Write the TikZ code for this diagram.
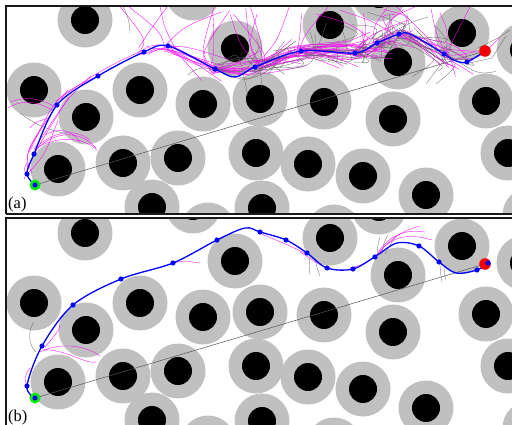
\documentclass[tikz,border=0pt]{standalone}
\usepackage{fontspec}
\setmainfont{Liberation Serif}
\definecolor{obsgray}{RGB}{192,192,192}
\definecolor{branchgray}{RGB}{100,100,100}
\definecolor{linegray}{RGB}{85,85,85}
\definecolor{pmag}{RGB}{255,0,255}
\definecolor{pblue}{RGB}{0,0,255}
\definecolor{pgreen}{RGB}{0,235,0}
\definecolor{pred}{RGB}{245,0,0}
\newcommand\drawobstacles{%
  \foreach \cx/\cy in {85/20,193/-7,235/48,34/90,86/117,140/90,203/104,260/99,58/169,123/163,178/158,256/153,152/207,208/230,262/208,330/25,379/-6,462/33,398/62,324/102,393/119,486/101,524/50,308/164,363/176,426/195,508/153,334/232,530/215}{\fill[obsgray] (\cx,\cy) circle[radius=27.5];}
  \foreach \cx/\cy in {85/20,193/-7,235/48,34/90,86/117,140/90,203/104,260/99,58/169,123/163,178/158,256/153,152/207,208/230,262/208,330/25,379/-6,462/33,398/62,324/102,393/119,486/101,524/50,308/164,363/176,426/195,508/153,334/232,530/215}{\fill[black] (\cx,\cy) circle[radius=14];}
}
\def\WX{{35,27,34,57,98,144,168,215,255,301,355,377,399,444,467,485}}
\def\WY{{185,174,154,105,76,52,46,69,67,51,53,43,34,54,62,51}}
\def\BIDX{{5,6,6,7,7,7,8,8,8,9,9,9,10,10,10,11,11,12,3,4,1,2,12,13,8,9}}
\begin{document}
\begin{tikzpicture}[x=1pt,y=-1pt,
  pathline/.style={draw=pblue,line width=1.3pt},
  wpdot/.style={fill=pblue},
  branchm/.style={draw=pmag,line width=0.35pt},
  branchg/.style={draw=branchgray,line width=0.3pt},
  direct/.style={draw=linegray,line width=0.5pt},
  panelframe/.style={draw=black!90,line width=2pt},
  startmark/.style={fill=pgreen},
  goalmark/.style={fill=pred},
  panellabel/.style={anchor=base west,inner sep=0pt,font=\fontsize{16.5}{18}\selectfont}]
\useasboundingbox (0,0) rectangle (512,425);
\clip (0,0) rectangle (512,425);
\fill[white] (0,0) rectangle (512,425);
% ---------------- panel (a)
\begin{scope}
  \clip (6,6) rectangle (520,214);
  \drawobstacles
  \coordinate (sa) at (35,185);
  \coordinate (ga) at (485,51);
  \draw[direct] (sa) -- (ga);
  \pgfmathsetseed{12}
  \foreach \n in {1,...,75}{
    \pgfmathsetmacro\i{int(\BIDX[random(0,25)])}
    \pgfmathsetmacro\j{int(\i+1)}
    \pgfmathsetmacro\k{int(\i+2)}
    \pgfmathsetmacro\ax{\WX[\i]+5*rand}
    \pgfmathsetmacro\ay{\WY[\i]+5*rand}
    \pgfmathsetmacro\bx{\WX[\j]+12*rand}
    \pgfmathsetmacro\by{\WY[\j]+12*rand}
    \pgfmathsetmacro\ex{\WX[\k]+16*rand}
    \pgfmathsetmacro\ey{\WY[\k]+16*rand}
    \draw[branchm] (\ax,\ay) .. controls (\bx,\by) .. (\ex,\ey);
  }
  \foreach \n in {1,...,28}{
    \pgfmathsetmacro\i{int(random(5,13))}
    \pgfmathsetmacro\ax{\WX[\i]+8*rand}
    \pgfmathsetmacro\ay{\WY[\i]+5*rand}
    \pgfmathsetmacro\bx{\ax+25*rand}
    \pgfmathsetmacro\by{\ay-12-10*rnd}
    \pgfmathsetmacro\ex{\bx+40*rand}
    \pgfmathsetmacro\ey{3+12*rnd}
    \draw[branchm] (\ax,\ay) .. controls (\bx,\by) .. (\ex,\ey);
  }
  \foreach \n in {1,...,60}{
    \pgfmathsetmacro\i{int(random(7,13))}
    \pgfmathsetmacro\j{int(\i+1)}
    \pgfmathsetmacro\ax{\WX[\i]+6*rand}
    \pgfmathsetmacro\ay{\WY[\i]+6*rand}
    \pgfmathsetmacro\bx{\WX[\j]+20*rand}
    \pgfmathsetmacro\by{\WY[\j]+20*rand}
    \pgfmathsetmacro\ex{\WX[\j]+35*rand}
    \pgfmathsetmacro\ey{\WY[\j]+30*rand}
    \draw[branchg] (\ax,\ay) .. controls (\bx,\by) .. (\ex,\ey);
  }
  % hand-drawn branches
  \draw[branchm] (36,150) .. controls (55,130) and (80,130) .. (96,148);
  \draw[branchm] (38,147) .. controls (60,135) and (85,138) .. (97,150);
  \draw[branchm] (40,144) .. controls (55,132) and (75,128) .. (90,140);
  \draw[branchm] (45,135) .. controls (58,127) and (72,130) .. (80,142);
  \draw[branchm] (52,110) .. controls (35,100) and (20,100) .. (8,108);
  \draw[branchm] (55,107) .. controls (40,98) and (25,96) .. (10,102);
  \draw[branchm] (50,118) .. controls (40,120) and (33,123) .. (30,128);
  \draw[branchm] (28,176) .. controls (23,172) and (24,167) .. (27,163);
  \draw[branchg] (20,113) .. controls (35,125) and (50,130) .. (63,133);
  \draw[branchg] (123,7) .. controls (128,15) and (130,25) .. (130,33);
  \draw[branchg] (188,75) .. controls (195,68) and (205,66) .. (213,70);
  \draw[branchg] (470,63) -- (492,58) -- (506,36);
  \draw[branchg] (478,48) -- (498,38) -- (510,30);
  % path
  \draw[pathline] plot[smooth,tension=0.55] coordinates {(35,185) (27,174) (34,154) (57,105) (98,76) (144,52) (168,46) (215,69) (235,77) (255,67) (301,51) (355,53) (377,43) (399,34) (410,34) (433,47) (444,54) (456,61) (467,62) (485,51)};
  \fill[startmark] (sa) circle[radius=5.5];
  \fill[goalmark] (ga) circle[radius=5.8];
  \foreach \px/\py in {35/185,27/174,34/154,57/105,98/76,144/52,168/46,215/69,255/67,301/51,355/53,377/43,399/34,444/54,467/62}{\fill[wpdot] (\px,\py) circle[radius=2.6];}
\end{scope}
\draw[panelframe] (6,214) -- (6,6) -- (520,6);
\draw[panelframe] (6,214) -- (520,214);
\node[panellabel] (la) at (8,208.3) {(a)};
% ---------------- panel (b)
\begin{scope}
  \clip (6,218.5) rectangle (520,430);
  \begin{scope}[shift={(0,213)}]
    \drawobstacles
  \end{scope}
  \coordinate (sb) at (35,398);
  \coordinate (gb) at (485,264);
  \draw[direct] (sb) -- (gb);
  \draw[branchm] (27,386) .. controls (24,380) and (25,374) .. (30,368);
  \draw[branchm] (40,352) .. controls (60,342) and (85,345) .. (100,356);
  \draw[branchm] (42,350) .. controls (65,348) and (85,365) .. (97,362);
  \draw[branchm] (45,347) .. controls (55,335) and (60,330) .. (60,325);
  \draw[branchm] (173,263) .. controls (185,260) and (192,262) .. (200,263);
  \draw[branchm] (262,234) .. controls (275,240) and (292,246) .. (306,254);
  \draw[branchm] (300,252) .. controls (310,258) and (320,266) .. (330,269);
  \draw[branchm] (350,268) .. controls (360,266) and (368,262) .. (378,254);
  \draw[branchm] (376,256) .. controls (385,240) and (400,228) .. (425,232);
  \draw[branchm] (378,254) .. controls (390,238) and (405,232) .. (432,240);
  \draw[branchm] (380,252) .. controls (392,236) and (410,228) .. (420,226);
  \draw[branchg] (34,322) .. controls (28,330) and (28,345) .. (36,352);
  \draw[branchg] (310,256) .. controls (309,263) and (309,268) .. (310,275);
  \draw[branchg] (315,258) .. controls (316,265) and (318,270) .. (320,276);
  \draw[branchg] (378,255) .. controls (377,248) and (378,243) .. (380,237);
  \draw[branchg] (382,252) .. controls (383,245) and (385,240) .. (388,235);
  \draw[branchg] (385,254) .. controls (388,248) and (392,242) .. (396,236);
  \draw[branchg] (440,262) .. controls (440,270) and (441,276) .. (442,282);
  \draw[branchg] (444,266) .. controls (444,272) and (445,277) .. (446,280);
  \draw[pathline] plot[smooth,tension=0.55] coordinates {(35,398) (27,386) (42,346) (73,305) (121,279) (173,263) (217,240) (245,228) (260,232) (286,240) (307,253) (327,268) (353,269) (376,256) (397,243) (419,246) (439,262) (456,273) (477,270) (488,263)};
  \fill[startmark] (sb) circle[radius=5.5];
  \fill[goalmark] (gb) circle[radius=5.8];
  \foreach \px/\py in {35/398,27/386,42/346,73/305,121/279,173/263,217/240,260/232,286/240,307/253,327/268,353/269,375/257,419/246,439/262,477/270,488/263}{\fill[wpdot] (\px,\py) circle[radius=2.6];}
\end{scope}
\draw[panelframe] (6,430) -- (6,218.5) -- (520,218.5);
\node[panellabel] (lb) at (8,421.3) {(b)};
\end{tikzpicture}
\end{document}
